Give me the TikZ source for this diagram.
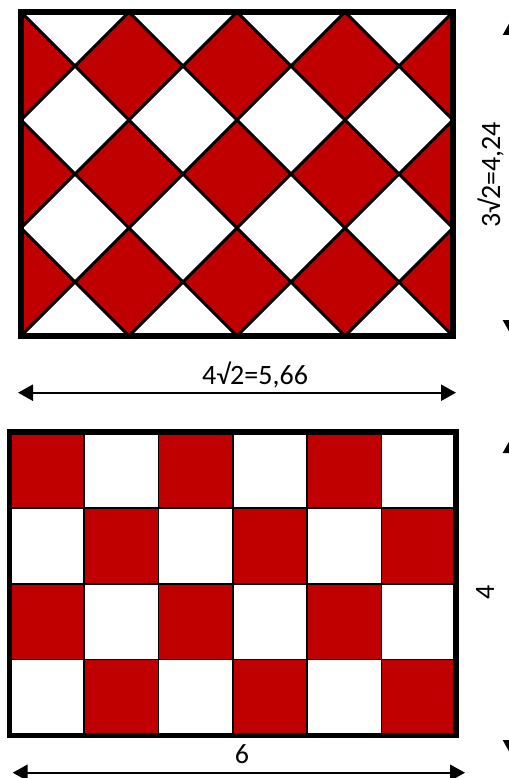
\documentclass[tikz,border=0pt]{standalone}
\usepackage{fontspec}
\setmainfont{Carlito}
\usetikzlibrary{arrows.meta}
\definecolor{cred}{RGB}{192,0,0}
\tikzset{
  tile/.style={fill=cred, draw=black, line width=3pt, line join=miter},
  frame/.style={draw=black, line width=5.5pt, line join=miter},
  gridline/.style={draw=black, line width=1.6pt},
  dimarrow/.style={line width=2.4pt, {Triangle[length=15pt,width=16pt]}-{Triangle[length=15pt,width=16pt]}},
  dimlabel/.style={font=\fontsize{28}{32}\selectfont, inner sep=0pt}
}
\begin{document}
\begin{tikzpicture}[x=1pt,y=-1pt]
\useasboundingbox (0,0) rectangle (508,778);
% ---------- top: diamond pattern ----------
\begin{scope}
  \clip (21,12) rectangle (453,336);
  \fill[white] (21,12) rectangle (453,336);
  \foreach \p in {0,2,...,8} {
    \foreach \q in {1,3,5} {
      \path[tile] ({21+(\p-1)*54},{12+\q*54}) -- ({21+\p*54},{12+(\q-1)*54})
        -- ({21+(\p+1)*54},{12+\q*54}) -- ({21+\p*54},{12+(\q+1)*54}) -- cycle;
    }
  }
\end{scope}
\path[frame] (21,12) rectangle (453,336);
% top dimensions
\coordinate (hA) at (18,392.7);
\coordinate (hB) at (456,392.7);
\draw[dimarrow] (hA) -- (hB);
\node[dimlabel, anchor=base] (lw) at (255,384.3) {4√2=5,66};
\coordinate (vA) at (511,20);
\coordinate (vB) at (511,335);
\draw[dimarrow] (vA) -- (vB);
\node[dimlabel, anchor=base, rotate=90] (lh) at (500,175) {3√2=4,24};
% ---------- bottom: checkerboard ----------
\foreach \i in {0,...,5} {
  \foreach \j in {0,...,3} {
    \pgfmathtruncatemacro\s{mod(\i+\j,2)}
    \ifnum\s=0
      \fill[cred] ({9.5+\i*74.4},{432+\j*75.875}) rectangle ({9.5+(\i+1)*74.4},{432+(\j+1)*75.875});
    \else
      \fill[white] ({9.5+\i*74.4},{432+\j*75.875}) rectangle ({9.5+(\i+1)*74.4},{432+(\j+1)*75.875});
    \fi
  }
}
\foreach \i in {1,...,5} {
  \draw[gridline] ({9.5+\i*74.4},432) -- ({9.5+\i*74.4},735.5);
}
\foreach \j in {1,2,3} {
  \draw[gridline] (9.5,{432+\j*75.875}) -- (456,{432+\j*75.875});
}
\path[frame] (9.5,432) rectangle (456,735.5);
% bottom dimensions
\coordinate (hC) at (12.7,772.7);
\coordinate (hD) at (465,772.7);
\draw[dimarrow] (hC) -- (hD);
\node[dimlabel, anchor=base] (l6) at (242,763) {6};
\coordinate (vC) at (511,438);
\coordinate (vD) at (511,755);
\draw[dimarrow] (vC) -- (vD);
\node[dimlabel, anchor=base, rotate=90] (l4) at (494,592) {4};
\end{tikzpicture}
\end{document}
